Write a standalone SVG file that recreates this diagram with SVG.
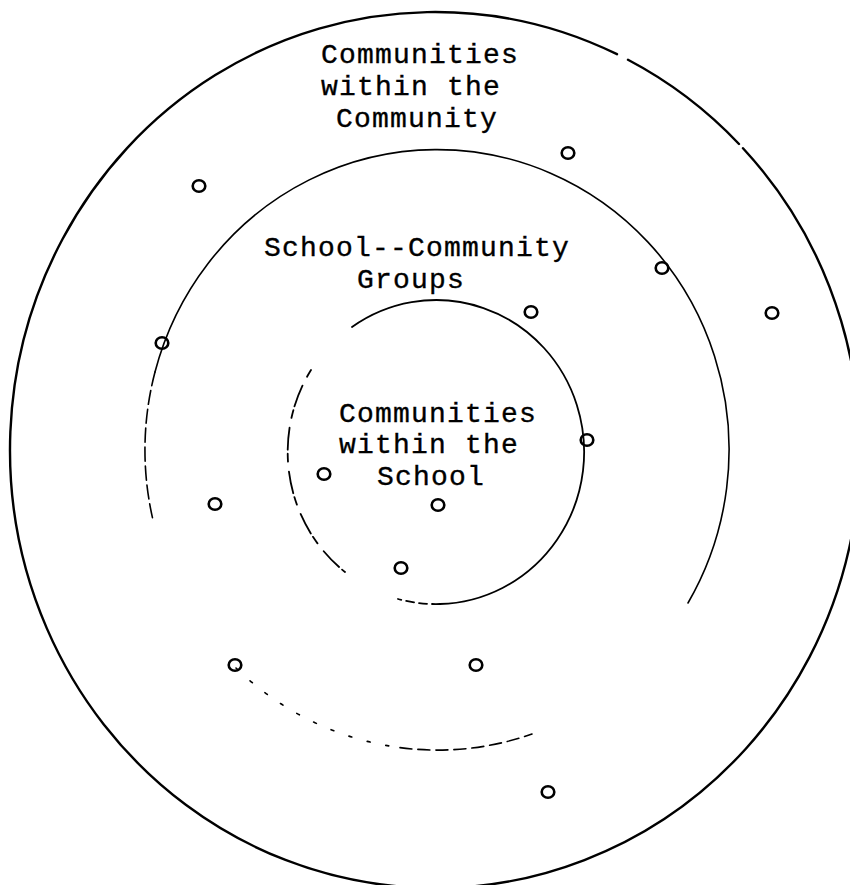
<svg xmlns="http://www.w3.org/2000/svg" width="850" height="885" viewBox="0 0 850 885">
<style>
.ring{fill:none;stroke:#000;stroke-linecap:round}
.outer{stroke-width:2.4}
.mid{stroke-width:1.6}
.inn{stroke-width:1.8}
.lbl{font-family:"Liberation Mono","Courier New",monospace;font-size:28px;letter-spacing:1.2px;fill:#000;stroke:#000;stroke-width:0.35px}
.mk{fill:none;stroke:#000;stroke-width:2.6}
</style>
<rect x="0" y="0" width="850" height="885" fill="#fff"/>

<g id="ring-community">
  <path class="ring outer" d="M 628 59.8 A 425 438 0 0 1 739 144 M 743 148.2 A 425 438 0 1 1 617 54.2"/>
  <text class="lbl" x="321" y="63">Communities</text>
  <text class="lbl" x="321" y="95">within the</text>
  <text class="lbl" x="336" y="127">Community</text>
</g>

<g id="ring-groups">
  <path class="ring mid" d="M 155 372 A 292 300 0 1 1 688 603"/>
  <path class="ring mid" stroke-dasharray="14 5" d="M 155 372 A 292 300 0 0 0 153 520"/>
  <path class="ring mid" stroke-width="1.3" stroke-dasharray="3 16" d="M 236 668 A 292 300 0 0 0 400 747.6"/>
  <path class="ring mid" stroke-width="1.4" stroke-dasharray="12 6" d="M 400 747.6 A 292 300 0 0 0 532 734"/>
  <text class="lbl" x="264" y="256">School--Community</text>
  <text class="lbl" x="357" y="288">Groups</text>
</g>

<g id="ring-school">
  <path class="ring inn" d="M 352 327 A 148 152 0 1 1 440 604"/>
  <path class="ring inn" stroke-width="1.4" stroke-dasharray="8 5" d="M 440 604 A 148 152 0 0 1 398 599"/>
  <path class="ring inn" stroke-width="1.3" stroke-dasharray="8 10 22 4" d="M 311 370 A 148 152 0 0 0 345 572"/>
  <text class="lbl" x="339" y="422">Communities</text>
  <text class="lbl" x="339" y="453">within the</text>
  <text class="lbl" x="377" y="485">School</text>
</g>

<g id="members">
  <g id="m1"><ellipse class="mk" cx="199" cy="186" rx="6.3" ry="5.8"/></g>
  <g id="m2"><ellipse class="mk" cx="568" cy="153" rx="6.3" ry="5.8"/></g>
  <g id="m3"><ellipse class="mk" cx="662" cy="268" rx="6.3" ry="5.8"/></g>
  <g id="m4"><ellipse class="mk" cx="772" cy="313" rx="6.3" ry="5.8"/></g>
  <g id="m5"><ellipse class="mk" cx="531" cy="312" rx="6.3" ry="5.8"/></g>
  <g id="m6"><ellipse class="mk" cx="162" cy="343" rx="6.3" ry="5.8"/></g>
  <g id="m7"><ellipse class="mk" cx="587" cy="440" rx="6.3" ry="5.8"/></g>
  <g id="m8"><ellipse class="mk" cx="324" cy="474" rx="6.3" ry="5.8"/></g>
  <g id="m9"><ellipse class="mk" cx="215" cy="504" rx="6.3" ry="5.8"/></g>
  <g id="m10"><ellipse class="mk" cx="438" cy="505" rx="6.3" ry="5.8"/></g>
  <g id="m11"><ellipse class="mk" cx="401" cy="568" rx="6.3" ry="5.8"/></g>
  <g id="m12"><ellipse class="mk" cx="235" cy="665" rx="6.3" ry="5.8"/></g>
  <g id="m13"><ellipse class="mk" cx="476" cy="665" rx="6.3" ry="5.8"/></g>
  <g id="m14"><ellipse class="mk" cx="548" cy="792" rx="6.3" ry="5.8"/></g>
</g>
</svg>
